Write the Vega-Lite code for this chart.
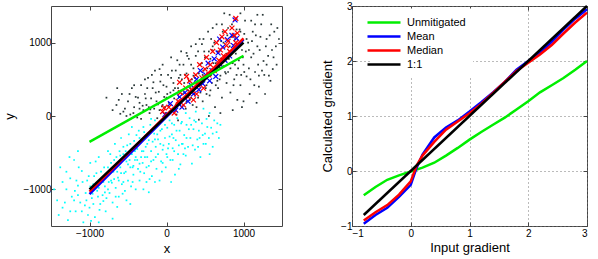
{
 "$schema": "https://vega.github.io/schema/vega-lite/v6.json",
 "padding": {"left": 3, "top": 0, "right": 0, "bottom": 0},
 "spacing": 70,
 "bounds": "flush",
 "config": {
  "font": "Liberation Sans",
  "view": {"stroke": "#444", "strokeWidth": 1},
  "axis": {"domain": false, "grid": false, "tickColor": "#444", "tickSize": -4, "labelFontSize": 10, "labelColor": "#000", "titleFontSize": 13, "titleFontWeight": "normal", "titleColor": "#000", "labelPadding": 4, "format": "d"}
 },
 "resolve": {"scale": {"color": "independent"}},
 "datasets": {
  "cyan": [
   {"x":-1420,"y":-1150},{"x":-1380,"y":-700},{"x":-1350,"y":-1250},{"x":-1300,"y":-1000},{"x":-1280,"y":-1420},{"x":-1250,"y":-850},{"x":-1230,"y":-1100},{"x":-1200,"y":-600},{"x":-1180,"y":-1300},{"x":-1150,"y":-950},{"x":-1120,"y":-1180},{"x":-1100,"y":-750},{"x":-1080,"y":-1450},{"x":-1050,"y":-1050},{"x":-1030,"y":-880},{"x":-1000,"y":-1250},{"x":-990,"y":-640},{"x":-970,"y":-1120},{"x":-950,"y":-930},{"x":-930,"y":-1380},{"x":-910,"y":-780},{"x":-900,"y":-1020},{"x":-880,"y":-560},{"x":-860,"y":-1200},{"x":-850,"y":-870},{"x":-830,"y":-1080},{"x":-810,"y":-700},{"x":-800,"y":-960},{"x":-790,"y":-1300},{"x":-770,"y":-820},{"x":-760,"y":-480},{"x":-740,"y":-1050},{"x":-720,"y":-640},{"x":-710,"y":-910},{"x":-700,"y":-1180},{"x":-690,"y":-760},{"x":-670,"y":-380},{"x":-660,"y":-980},{"x":-650,"y":-560},{"x":-630,"y":-840},{"x":-620,"y":-1100},{"x":-600,"y":-700},{"x":-590,"y":-300},{"x":-580,"y":-930},{"x":-560,"y":-520},{"x":-550,"y":-780},{"x":-540,"y":-1020},{"x":-520,"y":-620},{"x":-510,"y":-400},{"x":-500,"y":-880},{"x":-490,"y":-250},{"x":-470,"y":-700},{"x":-460,"y":-960},{"x":-450,"y":-520},{"x":-430,"y":-800},{"x":-420,"y":-340},{"x":-410,"y":-600},{"x":-400,"y":-1000},{"x":-380,"y":-450},{"x":-370,"y":-720},{"x":-360,"y":-200},{"x":-350,"y":-880},{"x":-330,"y":-560},{"x":-320,"y":-330},{"x":-310,"y":-640},{"x":-300,"y":-150},{"x":-290,"y":-780},{"x":-270,"y":-420},{"x":-260,"y":-900},{"x":-250,"y":-560},{"x":-240,"y":-250},{"x":-230,"y":-680},{"x":-210,"y":-120},{"x":-200,"y":-480},{"x":-190,"y":-820},{"x":-180,"y":-350},{"x":-170,"y":-600},{"x":-150,"y":-60},{"x":-140,"y":-420},{"x":-130,"y":-720},{"x":-120,"y":-250},{"x":-110,"y":-520},{"x":-100,"y":-100},{"x":-90,"y":-880},{"x":-80,"y":-380},{"x":-70,"y":-620},{"x":-60,"y":-180},{"x":-50,"y":-460},{"x":-30,"y":-40},{"x":-20,"y":-300},{"x":-10,"y":-700},{"x":0,"y":-520},{"x":10,"y":-160},{"x":30,"y":-380},{"x":40,"y":-60},{"x":50,"y":-600},{"x":70,"y":-250},{"x":80,"y":-440},{"x":100,"y":-120},{"x":110,"y":-800},{"x":120,"y":-330},{"x":140,"y":-30},{"x":150,"y":-520},{"x":170,"y":-200},{"x":180,"y":-660},{"x":200,"y":-80},{"x":210,"y":-380},{"x":230,"y":-260},{"x":250,"y":-540},{"x":260,"y":-120},{"x":280,"y":-420},{"x":300,"y":-30},{"x":310,"y":-300},{"x":330,"y":-650},{"x":350,"y":-180},{"x":370,"y":-460},{"x":380,"y":-80},{"x":400,"y":-320},{"x":420,"y":-200},{"x":440,"y":-560},{"x":460,"y":-100},{"x":480,"y":-380},{"x":500,"y":-240},{"x":520,"y":-40},{"x":550,"y":-300},{"x":580,"y":-160},{"x":600,"y":-420},{"x":620,"y":-60},{"x":650,"y":-220},{"x":700,"y":-120},{"x":-1100,"y":-1300},{"x":-950,"y":-1200},{"x":-880,"y":-1450},{"x":-1250,"y":-1300},{"x":-1350,"y":-900},{"x":-780,"y":-1120},{"x":-520,"y":-1150},{"x":-300,"y":-1000},{"x":-150,"y":-900},{"x":-620,"y":-880},{"x":-400,"y":-560},{"x":-250,"y":-380},{"x":-350,"y":-650},{"x":-450,"y":-150},{"x":-560,"y":-420},
   {"x":-1460,"y":-1000},{"x":-1320,"y":-1180},{"x":-1260,"y":-560},{"x":-1190,"y":-1020},{"x":-1140,"y":-700},{"x":-1060,"y":-1220},{"x":-1010,"y":-820},{"x":-960,"y":-1060},{"x":-920,"y":-620},{"x":-870,"y":-1280},{"x":-820,"y":-900},{"x":-760,"y":-1000},{"x":-730,"y":-520},{"x":-680,"y":-860},{"x":-640,"y":-1240},{"x":-610,"y":-480},{"x":-570,"y":-1060},{"x":-530,"y":-760},{"x":-480,"y":-600},{"x":-440,"y":-900},{"x":-390,"y":-260},{"x":-340,"y":-760},{"x":-280,"y":-560},{"x":-220,"y":-860},{"x":-160,"y":-240},{"x":-60,"y":-760},{"x":20,"y":-440},{"x":90,"y":-300},{"x":160,"y":-720},{"x":240,"y":-440},{"x":320,"y":-120},{"x":410,"y":-420},{"x":470,"y":-260},{"x":530,"y":-150},{"x":560,"y":-520},{"x":680,"y":-300},{"x":-1400,"y":-1350},{"x":-1150,"y":-480},{"x":-980,"y":-1430},{"x":-700,"y":-1400},{"x":-470,"y":-1200},{"x":-820,"y":-1160},{"x":-230,"y":-1040},{"x":60,"y":-900},{"x":-1300,"y":-760},{"x":-200,"y":-40},{"x":100,"y":80},{"x":250,"y":40},{"x":380,"y":60},{"x":560,"y":40},{"x":480,"y":100},
   {"x":-1200,"y":-1150},{"x":-1150,"y":-1080},{"x":-1090,"y":-900},{"x":-1040,"y":-1150},{"x":-990,"y":-960},{"x":-940,"y":-820},{"x":-890,"y":-1100},{"x":-850,"y":-760},{"x":-800,"y":-1040},{"x":-760,"y":-700},{"x":-720,"y":-880},{"x":-680,"y":-600},{"x":-640,"y":-760},{"x":-600,"y":-540},{"x":-560,"y":-900},{"x":-530,"y":-480},{"x":-500,"y":-660},{"x":-470,"y":-380},{"x":-440,"y":-700},{"x":-410,"y":-480},{"x":-380,"y":-600},{"x":-350,"y":-300},{"x":-320,"y":-480},{"x":-290,"y":-220},{"x":-260,"y":-700},{"x":-230,"y":-330},{"x":-200,"y":-620},{"x":-170,"y":-160},{"x":-140,"y":-560},{"x":-110,"y":-320},{"x":-80,"y":-200},{"x":-50,"y":-640},{"x":-20,"y":-120},{"x":10,"y":-560},{"x":40,"y":-280},{"x":70,"y":-100},{"x":100,"y":-480},{"x":130,"y":-200},{"x":160,"y":-400},{"x":190,"y":-100},{"x":220,"y":-520},{"x":260,"y":-300},{"x":290,"y":-180},{"x":340,"y":-400},{"x":360,"y":-60},{"x":430,"y":-300},{"x":510,"y":-380},{"x":600,"y":-240},{"x":660,"y":-100},{"x":-1020,"y":-1350},{"x":-1170,"y":-880},{"x":-880,"y":-980},{"x":-750,"y":-900},{"x":-660,"y":-1100},{"x":-590,"y":-780},{"x":-430,"y":-680},{"x":-300,"y":-480},{"x":-150,"y":-320},{"x":-40,"y":-400},{"x":80,"y":-600},{"x":200,"y":-380}
  ],
  "dark": [
   {"x":-780,"y":250},{"x":-700,"y":80},{"x":-650,"y":150},{"x":-600,"y":30},{"x":-580,"y":300},{"x":-540,"y":100},{"x":-500,"y":200},{"x":-470,"y":20},{"x":-450,"y":380},{"x":-420,"y":120},{"x":-400,"y":260},{"x":-380,"y":-20},{"x":-350,"y":180},{"x":-330,"y":420},{"x":-300,"y":80},{"x":-280,"y":300},{"x":-260,"y":150},{"x":-240,"y":520},{"x":-220,"y":40},{"x":-200,"y":240},{"x":-180,"y":380},{"x":-160,"y":100},{"x":-150,"y":620},{"x":-130,"y":200},{"x":-120,"y":-30},{"x":-100,"y":330},{"x":-80,"y":470},{"x":-60,"y":130},{"x":-50,"y":700},{"x":-30,"y":260},{"x":-10,"y":40},{"x":0,"y":400},{"x":20,"y":560},{"x":30,"y":180},{"x":50,"y":320},{"x":60,"y":800},{"x":80,"y":90},{"x":90,"y":450},{"x":100,"y":240},{"x":120,"y":620},{"x":130,"y":20},{"x":150,"y":380},{"x":160,"y":520},{"x":180,"y":150},{"x":190,"y":880},{"x":200,"y":300},{"x":220,"y":700},{"x":230,"y":450},{"x":250,"y":100},{"x":260,"y":580},{"x":280,"y":350},{"x":290,"y":780},{"x":300,"y":220},{"x":320,"y":950},{"x":330,"y":500},{"x":350,"y":650},{"x":360,"y":300},{"x":380,"y":820},{"x":390,"y":120},{"x":400,"y":450},{"x":420,"y":580},{"x":430,"y":1050},{"x":440,"y":320},{"x":460,"y":720},{"x":470,"y":200},{"x":490,"y":880},{"x":500,"y":520},{"x":510,"y":380},{"x":530,"y":650},{"x":540,"y":1150},{"x":560,"y":280},{"x":570,"y":780},{"x":590,"y":450},{"x":600,"y":950},{"x":610,"y":600},{"x":630,"y":120},{"x":640,"y":720},{"x":650,"y":1250},{"x":670,"y":380},{"x":680,"y":880},{"x":700,"y":550},{"x":710,"y":1020},{"x":720,"y":250},{"x":740,"y":680},{"x":750,"y":1400},{"x":760,"y":820},{"x":780,"y":450},{"x":790,"y":1100},{"x":800,"y":600},{"x":820,"y":950},{"x":830,"y":320},{"x":850,"y":1250},{"x":860,"y":720},{"x":880,"y":500},{"x":890,"y":1050},{"x":900,"y":850},{"x":920,"y":220},{"x":930,"y":650},{"x":950,"y":1180},{"x":960,"y":420},{"x":980,"y":900},{"x":1000,"y":700},{"x":1020,"y":1300},{"x":1040,"y":540},{"x":1060,"y":1000},{"x":1080,"y":300},{"x":1100,"y":800},{"x":1120,"y":1150},{"x":1150,"y":600},{"x":1180,"y":950},{"x":1200,"y":400},{"x":1230,"y":1250},{"x":1260,"y":750},{"x":1300,"y":1050},{"x":1330,"y":550},{"x":1370,"y":900},{"x":1400,"y":1150},{"x":1430,"y":700},{"x":1460,"y":1050},{"x":1250,"y":1380},{"x":1100,"y":1300},{"x":900,"y":1320},{"x":1170,"y":180},{"x":1350,"y":480},{"x":1280,"y":300},{"x":980,"y":120},{"x":1000,"y":200},{"x":860,"y":80},{"x":700,"y":40},{"x":550,"y":0},
   {"x":-620,"y":220},{"x":-560,"y":60},{"x":-480,"y":300},{"x":-430,"y":40},{"x":-370,"y":250},{"x":-310,"y":140},{"x":-250,"y":380},{"x":-210,"y":90},{"x":-170,"y":460},{"x":-110,"y":160},{"x":-70,"y":560},{"x":-20,"y":120},{"x":10,"y":300},{"x":70,"y":620},{"x":110,"y":380},{"x":140,"y":180},{"x":170,"y":700},{"x":210,"y":220},{"x":240,"y":560},{"x":270,"y":820},{"x":310,"y":380},{"x":340,"y":150},{"x":370,"y":520},{"x":410,"y":880},{"x":450,"y":420},{"x":480,"y":620},{"x":520,"y":300},{"x":550,"y":880},{"x":580,"y":560},{"x":620,"y":1000},{"x":660,"y":480},{"x":690,"y":660},{"x":730,"y":1150},{"x":770,"y":580},{"x":810,"y":780},{"x":840,"y":1080},{"x":870,"y":420},{"x":910,"y":1180},{"x":940,"y":760},{"x":970,"y":560},{"x":1010,"y":1120},{"x":1030,"y":880},{"x":1070,"y":650},{"x":1110,"y":1020},{"x":1140,"y":420},{"x":1190,"y":700},{"x":1220,"y":1080},{"x":1270,"y":560},{"x":1320,"y":820},{"x":1380,"y":640},{"x":1420,"y":950},{"x":1360,"y":1250},{"x":1180,"y":1380},{"x":960,"y":1400},{"x":820,"y":1380},{"x":600,"y":1200},{"x":480,"y":1050},{"x":380,"y":980},{"x":260,"y":860},{"x":140,"y":760},{"x":-90,"y":640},{"x":-190,"y":560},{"x":-280,"y":500},{"x":-420,"y":420},{"x":-640,"y":380},{"x":-520,"y":0},{"x":-330,"y":-40},{"x":150,"y":-60},{"x":420,"y":-50},
   {"x":-50,"y":150},{"x":0,"y":250},{"x":40,"y":60},{"x":90,"y":350},{"x":120,"y":150},{"x":160,"y":260},{"x":200,"y":500},{"x":230,"y":320},{"x":260,"y":200},{"x":290,"y":480},{"x":320,"y":250},{"x":350,"y":550},{"x":380,"y":400},{"x":410,"y":250},{"x":440,"y":700},{"x":470,"y":560},{"x":500,"y":800},{"x":520,"y":420},{"x":540,"y":580},{"x":570,"y":350},{"x":590,"y":900},{"x":610,"y":720},{"x":640,"y":420},{"x":660,"y":880},{"x":690,"y":500},{"x":710,"y":780},{"x":740,"y":1000},{"x":760,"y":600},{"x":780,"y":850},{"x":800,"y":1200},{"x":830,"y":650},{"x":850,"y":900},{"x":870,"y":1100},{"x":890,"y":700},{"x":910,"y":560},{"x":940,"y":980},{"x":960,"y":1150},{"x":990,"y":800},{"x":1010,"y":600},{"x":1040,"y":1050},{"x":1070,"y":900},{"x":1090,"y":500},{"x":1130,"y":850},{"x":1160,"y":1100},{"x":1210,"y":900},{"x":1240,"y":620},{"x":1290,"y":950},{"x":1340,"y":1100},{"x":1390,"y":800},{"x":1440,"y":1200},{"x":-350,"y":100},{"x":-270,"y":240},{"x":-230,"y":120},{"x":-140,"y":320},{"x":-90,"y":80},{"x":-40,"y":420},{"x":60,"y":520},{"x":180,"y":560},{"x":320,"y":700},{"x":460,"y":980},{"x":580,"y":1050},{"x":720,"y":1250},{"x":1150,"y":1250},{"x":1300,"y":700},{"x":1200,"y":550}
  ],
  "meanx": [
   {"x":-20,"y":20},{"x":50,"y":170},{"x":120,"y":80},{"x":170,"y":260},{"x":200,"y":120},{"x":240,"y":320},{"x":280,"y":200},{"x":320,"y":420},{"x":350,"y":300},{"x":390,"y":500},{"x":420,"y":360},{"x":440,"y":620},{"x":470,"y":440},{"x":510,"y":560},{"x":540,"y":720},{"x":560,"y":480},{"x":590,"y":620},{"x":620,"y":780},{"x":640,"y":540},{"x":670,"y":860},{"x":700,"y":700},{"x":730,"y":940},{"x":760,"y":760},{"x":790,"y":1040},{"x":820,"y":820},{"x":850,"y":1100},{"x":870,"y":960},{"x":890,"y":1310},{"x":910,"y":1060},{"x":690,"y":1050}
  ],
  "medianx": [
   {"x":-50,"y":60},{"x":30,"y":120},{"x":100,"y":40},{"x":150,"y":200},{"x":180,"y":320},{"x":220,"y":150},{"x":250,"y":380},{"x":280,"y":260},{"x":300,"y":480},{"x":330,"y":350},{"x":350,"y":220},{"x":380,"y":560},{"x":410,"y":420},{"x":430,"y":700},{"x":460,"y":520},{"x":480,"y":380},{"x":500,"y":640},{"x":520,"y":800},{"x":550,"y":560},{"x":570,"y":700},{"x":600,"y":880},{"x":620,"y":620},{"x":650,"y":1000},{"x":680,"y":760},{"x":700,"y":900},{"x":720,"y":1080},{"x":740,"y":820},{"x":760,"y":1150},{"x":780,"y":960},{"x":800,"y":1020},{"x":820,"y":880},{"x":850,"y":1200},{"x":880,"y":1100},{"x":900,"y":1000},{"x":920,"y":1130},{"x":900,"y":1330},{"x":-30,"y":110},{"x":260,"y":540},{"x":170,"y":460},{"x":390,"y":300}
  ],
  "llines": [
   {"s":"Mean","x":-1000,"y":-1065},{"s":"Mean","x":1000,"y":1040},
   {"s":"Median","x":-1000,"y":-1030},{"s":"Median","x":1000,"y":1060},
   {"s":"1:1","x":-1000,"y":-1000},{"s":"1:1","x":1000,"y":1000},
   {"s":"Unmitigated","x":-1000,"y":-352},{"s":"Unmitigated","x":1000,"y":822}
  ],
  "grad": [
   {"s":"Unmitigated","x":-0.8,"y":-0.44},{"s":"Unmitigated","x":-0.6,"y":-0.29},{"s":"Unmitigated","x":-0.4,"y":-0.16},{"s":"Unmitigated","x":-0.2,"y":-0.08},{"s":"Unmitigated","x":0,"y":-0.01},{"s":"Unmitigated","x":0.2,"y":0.06},{"s":"Unmitigated","x":0.4,"y":0.15},{"s":"Unmitigated","x":0.6,"y":0.28},{"s":"Unmitigated","x":0.8,"y":0.42},{"s":"Unmitigated","x":1.0,"y":0.57},{"s":"Unmitigated","x":1.2,"y":0.71},{"s":"Unmitigated","x":1.4,"y":0.84},{"s":"Unmitigated","x":1.6,"y":0.97},{"s":"Unmitigated","x":1.8,"y":1.12},{"s":"Unmitigated","x":2.0,"y":1.27},{"s":"Unmitigated","x":2.2,"y":1.43},{"s":"Unmitigated","x":2.4,"y":1.56},{"s":"Unmitigated","x":2.6,"y":1.69},{"s":"Unmitigated","x":2.8,"y":1.84},{"s":"Unmitigated","x":3.0,"y":2.0},
   {"s":"Mean","x":-0.8,"y":-0.96},{"s":"Mean","x":-0.6,"y":-0.8},{"s":"Mean","x":-0.4,"y":-0.67},{"s":"Mean","x":-0.2,"y":-0.47},{"s":"Mean","x":0,"y":-0.25},{"s":"Mean","x":0.1,"y":0.06},{"s":"Mean","x":0.2,"y":0.3},{"s":"Mean","x":0.4,"y":0.61},{"s":"Mean","x":0.6,"y":0.79},{"s":"Mean","x":0.8,"y":0.92},{"s":"Mean","x":1.0,"y":1.08},{"s":"Mean","x":1.2,"y":1.25},{"s":"Mean","x":1.4,"y":1.43},{"s":"Mean","x":1.6,"y":1.62},{"s":"Mean","x":1.8,"y":1.84},{"s":"Mean","x":2.0,"y":2.0},{"s":"Mean","x":2.2,"y":2.15},{"s":"Mean","x":2.4,"y":2.35},{"s":"Mean","x":2.6,"y":2.57},{"s":"Mean","x":2.8,"y":2.77},{"s":"Mean","x":3.0,"y":2.94},
   {"s":"Median","x":-0.8,"y":-0.9},{"s":"Median","x":-0.6,"y":-0.75},{"s":"Median","x":-0.4,"y":-0.62},{"s":"Median","x":-0.2,"y":-0.43},{"s":"Median","x":0,"y":-0.19},{"s":"Median","x":0.1,"y":0.1},{"s":"Median","x":0.2,"y":0.28},{"s":"Median","x":0.4,"y":0.53},{"s":"Median","x":0.6,"y":0.75},{"s":"Median","x":0.8,"y":0.9},{"s":"Median","x":1.0,"y":1.05},{"s":"Median","x":1.2,"y":1.22},{"s":"Median","x":1.4,"y":1.42},{"s":"Median","x":1.6,"y":1.62},{"s":"Median","x":1.8,"y":1.82},{"s":"Median","x":2.0,"y":1.97},{"s":"Median","x":2.2,"y":2.12},{"s":"Median","x":2.4,"y":2.29},{"s":"Median","x":2.6,"y":2.5},{"s":"Median","x":2.8,"y":2.7},{"s":"Median","x":3.0,"y":2.88},
   {"s":"1:1","x":-0.8,"y":-0.8},{"s":"1:1","x":3.0,"y":3.0}
  ]
 },
 "hconcat": [
  {
   "width": 231, "height": 220,
   "resolve": {"axis": {"x": "independent", "y": "independent"}},
   "layer": [
    {"data": {"name": "cyan"}, "mark": {"type": "square", "size": 3, "color": "#00ffff", "opacity": 1},
     "encoding": {
      "x": {"field": "x", "type": "quantitative", "scale": {"domain": [-1500, 1500], "nice": false, "zero": false}, "axis": {"values": [-1000, 0, 1000], "title": "x", "labelPadding": 6, "titlePadding": 4}},
      "y": {"field": "y", "type": "quantitative", "scale": {"domain": [-1500, 1500], "nice": false, "zero": false}, "axis": {"values": [-1000, 0, 1000], "title": "y", "titlePadding": 6}}}},
    {"data": {"name": "dark"}, "mark": {"type": "square", "size": 3, "color": "#2a3838", "opacity": 1},
     "encoding": {"x": {"field": "x", "type": "quantitative", "axis": null}, "y": {"field": "y", "type": "quantitative", "axis": null}}},
    {"data": {"name": "meanx"}, "mark": {"type": "point", "shape": "M-1,-1L1,1M-1,1L1,-1", "size": 24, "filled": false, "color": "#0000ff", "strokeWidth": 1.2, "opacity": 1},
     "encoding": {"x": {"field": "x", "type": "quantitative", "axis": null}, "y": {"field": "y", "type": "quantitative", "axis": null}}},
    {"data": {"name": "medianx"}, "mark": {"type": "point", "shape": "M-1,-1L1,1M-1,1L1,-1", "size": 24, "filled": false, "color": "#ff0000", "strokeWidth": 1.2, "opacity": 1},
     "encoding": {"x": {"field": "x", "type": "quantitative", "axis": null}, "y": {"field": "y", "type": "quantitative", "axis": null}}},
    {"data": {"name": "llines"}, "mark": {"type": "line", "strokeWidth": 2.5},
     "encoding": {
      "x": {"field": "x", "type": "quantitative", "axis": {"orient": "top", "values": [-1000, 0, 1000], "labels": false, "title": null}},
      "y": {"field": "y", "type": "quantitative", "axis": {"orient": "right", "values": [-1000, 0, 1000], "labels": false, "title": null}},
      "color": {"field": "s", "type": "nominal", "scale": {"domain": ["Mean", "Median", "1:1", "Unmitigated"], "range": ["#0000ff", "#ff0000", "#000000", "#00ee00"]}, "legend": null}}}
   ]
  },
  {
   "width": 235, "height": 220,
   "resolve": {"axis": {"x": "independent", "y": "independent"}},
   "layer": [
    {"data": {"name": "grad"}, "mark": {"type": "line", "strokeWidth": 2.5},
     "encoding": {
      "x": {"field": "x", "type": "quantitative", "scale": {"domain": [-1, 3], "nice": false, "zero": false}, "axis": {"values": [-1, 0, 1, 2, 3], "title": "Input gradient", "labelPadding": 6, "titlePadding": 3, "grid": true, "gridDash": [1, 3], "gridColor": "#777"}},
      "y": {"field": "y", "type": "quantitative", "scale": {"domain": [-1, 3], "nice": false, "zero": false}, "axis": {"values": [-1, 0, 1, 2, 3], "title": "Calculated gradient", "titlePadding": 6, "grid": true, "gridDash": [1, 3], "gridColor": "#777"}},
      "color": {"field": "s", "type": "nominal", "scale": {"domain": ["Unmitigated", "Mean", "Median", "1:1"], "range": ["#00ee00", "#0000ff", "#ff0000", "#000000"]},
       "legend": {"orient": "none", "legendX": 18, "legendY": 2.5, "title": null, "symbolType": "M-3,0L3,0", "symbolSize": 121, "symbolStrokeWidth": 2.5, "symbolFillColor": "transparent", "labelFontSize": 11, "labelOffset": 16, "fillColor": "white", "padding": 7, "rowPadding": 2}}}},
    {"data": {"name": "grad"}, "mark": {"type": "point", "opacity": 0},
     "encoding": {
      "x": {"field": "x", "type": "quantitative", "axis": {"orient": "top", "values": [-1, 0, 1, 2, 3], "labels": false, "title": null}},
      "y": {"field": "y", "type": "quantitative", "axis": {"orient": "right", "values": [-1, 0, 1, 2, 3], "labels": false, "title": null}}}}
   ]
  }
 ]
}
